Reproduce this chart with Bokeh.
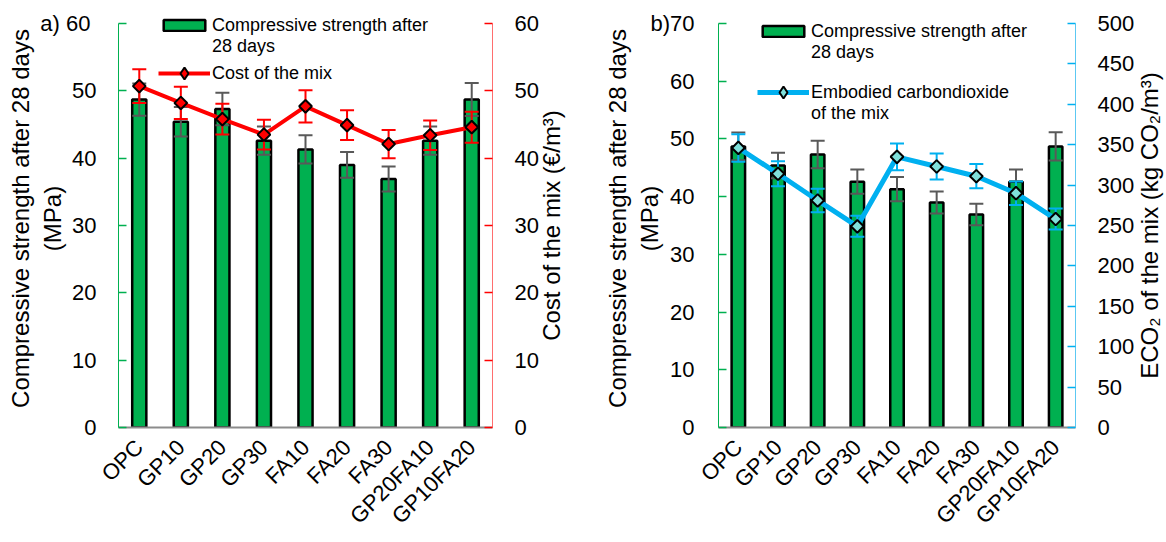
import math
from bokeh.plotting import figure
from bokeh.models import (ColumnDataSource, Range1d, FactorRange, LinearAxis,
                          Legend, LegendItem, Label, FixedTicker)
from bokeh.layouts import row
from bokeh.embed import file_html
from bokeh.resources import INLINE

FONT = "Liberation Sans"

# ---------------- data ----------------
categories = ["OPC", "GP10", "GP20", "GP30", "FA10", "FA20", "FA30", "GP20FA10", "GP10FA20"]
strength = [48.7, 45.4, 47.3, 42.6, 41.3, 39.0, 36.9, 42.6, 48.7]
strength_err = [2.4, 2.2, 2.4, 2.1, 2.1, 1.9, 1.85, 2.1, 2.45]
cost = [50.7, 48.2, 45.8, 43.5, 47.7, 44.9, 42.1, 43.4, 44.6]
cost_err = [2.5, 2.4, 2.3, 2.2, 2.4, 2.2, 2.1, 2.2, 2.3]
eco2 = [346, 314, 281, 249, 335, 323, 311, 290, 258]
eco2_err = [17, 15.5, 14.5, 13, 16.5, 16, 15, 14.5, 13]

strength_ticks_a = [0, 10, 20, 30, 40, 50, 60]
strength_ticks_b = [0, 10, 20, 30, 40, 50, 60, 70]
cost_ticks = [0, 10, 20, 30, 40, 50, 60]
eco2_ticks = [0, 50, 100, 150, 200, 250, 300, 350, 400, 450, 500]

src = ColumnDataSource(dict(
    cat=categories,
    s=strength,
    s_lo=[v - e for v, e in zip(strength, strength_err)],
    s_hi=[v + e for v, e in zip(strength, strength_err)],
    c=cost,
    c_lo=[v - e for v, e in zip(cost, cost_err)],
    c_hi=[v + e for v, e in zip(cost, cost_err)],
    e=eco2,
    e_lo=[v - e for v, e in zip(eco2, eco2_err)],
    e_hi=[v + e for v, e in zip(eco2, eco2_err)],
))

GREEN = "#00B050"
GREY = "#595959"
HEIGHT = 540
TOP = 9
FRAME_H = 418
HEAD = 14.0 / 404.0  # extra headroom above the top tick (fraction of axis span)


def style_axis(ax, line_color, tick_color, standoff):
    ax.axis_line_color = line_color
    ax.axis_line_width = 1
    ax.major_tick_line_color = tick_color
    ax.major_tick_line_width = 1.5
    ax.major_tick_in = 8
    ax.major_tick_out = 0
    ax.minor_tick_line_color = None
    ax.major_label_text_font = FONT
    ax.major_label_text_font_size = "22px"
    ax.major_label_text_color = "black"
    ax.major_label_standoff = standoff
    ax.axis_label_text_font = FONT
    ax.axis_label_text_font_size = "24px"
    ax.axis_label_text_font_style = "normal"
    ax.axis_label_text_color = "black"


def add_legend(p, vx, vy, text, renderers, glyph_h):
    leg = Legend(items=[LegendItem(label=text, renderers=renderers)],
                 location=(vx, vy), orientation="vertical", padding=0, margin=0,
                 spacing=0, glyph_width=52, glyph_height=glyph_h, label_standoff=2,
                 label_height=22, label_text_font=FONT, label_text_font_size="18px",
                 label_text_color="black", border_line_color=None,
                 background_fill_alpha=0)
    p.add_layout(leg)


def make_panel(width, border_left, border_right, ymax, yticks, rname, rmax, rticks,
               rcol, rlo, rhi, rlabel, rlabel_x, raxis_color, rtick_color, rline_color,
               marker_fill, rline_width, legend_lines, legend_vx,
               tag_text, left_standoff, right_standoff, left_label_standoff):
    p = figure(x_range=FactorRange(factors=categories),
               y_range=Range1d(0, ymax * (1 + HEAD)),
               width=width, height=HEIGHT, output_backend="svg", toolbar_location=None,
               min_border_left=border_left, min_border_right=border_right,
               min_border_top=TOP, min_border_bottom=HEIGHT - TOP - FRAME_H)
    p.extra_y_ranges = {rname: Range1d(0, rmax * (1 + HEAD))}
    p.outline_line_color = None
    p.xgrid.visible = False
    p.ygrid.visible = False

    bars = p.vbar(x="cat", top="s", width=0.34, source=src, fill_color=GREEN,
                  line_color="black", line_width=2.5)
    p.segment(x0="cat", y0="s_lo", x1="cat", y1="s_hi", source=src,
              line_color=GREY, line_width=2)
    p.scatter(x="cat", y="s_lo", marker="dash", size=14, source=src,
              line_color=GREY, line_width=2)
    p.scatter(x="cat", y="s_hi", marker="dash", size=14, source=src,
              line_color=GREY, line_width=2)

    p.segment(x0="cat", y0=rlo, x1="cat", y1=rhi, source=src, y_range_name=rname,
              line_color=rline_color, line_width=2)
    p.scatter(x="cat", y=rlo, marker="dash", size=14, source=src, y_range_name=rname,
              line_color=rline_color, line_width=2)
    p.scatter(x="cat", y=rhi, marker="dash", size=14, source=src, y_range_name=rname,
              line_color=rline_color, line_width=2)
    ln = p.line(x="cat", y=rcol, source=src, y_range_name=rname,
                line_color=rline_color, line_width=rline_width)
    p.scatter(x="cat", y=rcol, source=src, y_range_name=rname, marker="square",
              angle=math.pi / 4, size=9, fill_color=marker_fill,
              line_color="black", line_width=2)

    # legend-only renderers (NaN value -> nothing drawn in the plot area)
    mk_leg = p.scatter(x=categories[:1], y=[float("nan")], marker="diamond",
                       fill_color=marker_fill, line_color="black", line_width=2)
    blank = p.scatter(x=[], y=[], fill_alpha=0, line_alpha=0)

    # left axis
    yax = p.yaxis[0]
    yax.ticker = FixedTicker(ticks=yticks)
    yax.bounds = (0, ymax)
    yax.axis_label = "Compressive strength after 28 days\n(MPa)"
    yax.major_label_overrides = {ymax: tag_text}
    style_axis(yax, GREEN, GREEN, left_standoff)
    yax.axis_label_standoff = left_label_standoff

    # right axis
    rax = LinearAxis(y_range_name=rname, ticker=FixedTicker(ticks=rticks), bounds=(0, rmax))
    style_axis(rax, raxis_color, rtick_color, right_standoff)
    p.add_layout(rax, "right")
    p.add_layout(Label(x=rlabel_x, y=FRAME_H / 2 - 7, x_units="screen", y_units="screen",
                       text=rlabel, angle=math.pi / 2, text_align="center",
                       text_baseline="middle", text_font=FONT, text_font_size="24px",
                       text_color="black"), "right")

    # x axis
    xax = p.xaxis[0]
    xax.axis_line_color = "#8C8C8C"
    xax.axis_line_width = 2
    xax.major_tick_line_color = None
    xax.minor_tick_line_color = None
    xax.major_label_orientation = math.pi / 4
    xax.major_label_text_font = FONT
    xax.major_label_text_font_size = "22px"
    xax.major_label_text_color = "black"
    xax.major_label_standoff = 10

    # legend, one entry per text line (frame bottom is at 427 px page)
    kinds = {"bar": ([bars], 14, 11), "blank": ([blank], 14, 11),
             "line": ([ln, mk_leg], 30, 15)}
    for text, kind, center in legend_lines:
        rends, gh, half = kinds[kind]
        add_legend(p, legend_vx, 427 - center - half, text, rends, gh)
    return p


p1 = make_panel(580, 118, 88, 60, strength_ticks_a, "cost", 60, cost_ticks,
                "c", "c_lo", "c_hi", "Cost of the mix (€/m³)", 10, "#FF6E6E", "#FF0000",
                "#FF0000", "#FF0000", 4,
                [("Compressive strength after", "bar", 25),
                 ("28 days", "blank", 46),
                 ("Cost of the mix", "line", 73)], 40,
                "a)  60", 22, 22, -29)
p2 = make_panel(584, 138, 88, 70, strength_ticks_b, "eco2", 500, eco2_ticks,
                "e", "e_lo", "e_hi", "ECO₂ of the mix (kg CO₂/m³)", 12, "#5CC8F2", "#00B0F0",
                "#00B0F0", "#7FE0DA", 5,
                [("Compressive strength after", "bar", 31),
                 ("28 days", "blank", 52),
                 ("Embodied carbondioxide", "line", 92),
                 ("of the mix", "blank", 113)], 39,
                "b)70", 24, 22, -16)

layout = row(p1, p2)
open("out.html", "w").write(file_html(layout, INLINE))
